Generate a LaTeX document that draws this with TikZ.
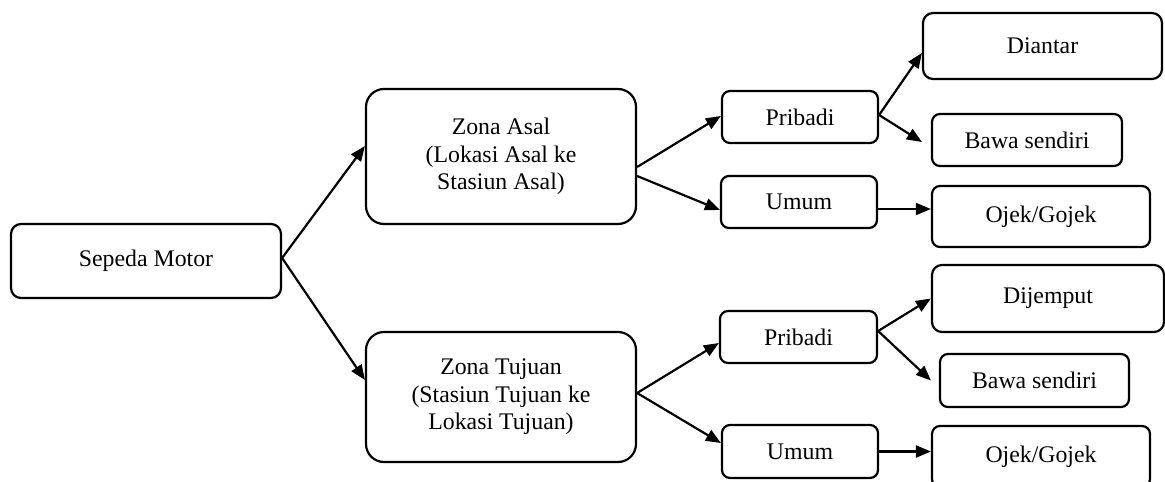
\documentclass[tikz,border=0pt]{standalone}
\usepackage{fontspec}
\setmainfont{Liberation Serif}
\usetikzlibrary{arrows.meta}
\tikzset{
  box/.style={draw, line width=1.1pt, rounded corners=#1, inner sep=0pt, align=center,
    font=\fontsize{11.9}{13.75}\selectfont},
  box/.default=4pt,
  arr/.style={line width=1.1pt, -{Triangle[length=7.5pt,width=6pt]}}
}
\begin{document}
\begin{tikzpicture}[x=0.5pt,y=-0.5pt]
\useasboundingbox (0,0) rectangle (1165,481);
\clip (0,0) rectangle (1165,481);
% level 0
\node[box=5pt, minimum width=135pt, minimum height=37pt] (sm) at (146,261) {Sepeda Motor};
% level 1
\node[box=9pt, minimum width=135pt, minimum height=67.5pt] (za) at (501,156.5) {Zona Asal\\(Lokasi Asal ke\\Stasiun Asal)};
\node[box=9pt, minimum width=135pt, minimum height=65pt] (zt) at (501,397) {Zona Tujuan\\(Stasiun Tujuan ke\\Lokasi Tujuan)};
% level 2
\node[box, minimum width=78pt, minimum height=26pt] (p1) at (800,117) {Pribadi};
\node[box, minimum width=78pt, minimum height=26pt] (u1) at (799,202) {Umum};
\node[box, minimum width=78.5pt, minimum height=26pt] (p2) at (798.5,337) {Pribadi};
\node[box, minimum width=78pt, minimum height=26.5pt] (u2) at (800,451.5) {Umum};
% level 3
\node[box=5pt, minimum width=119.5pt, minimum height=33pt] (d1) at (1042.5,46) {Diantar};
\node[box, minimum width=95pt, minimum height=26pt] (b1) at (1027,140) {Bawa sendiri};
\node[box, minimum width=109pt, minimum height=30.5pt] (o1) at (1041,216.5) {\raisebox{-2.5pt}{Ojek/Gojek}};
\node[box=5pt, minimum width=116pt, minimum height=33.5pt] (d2) at (1048,298.5) {\raisebox{-1.5pt}{Dijemput}};
\node[box, minimum width=94.5pt, minimum height=26.5pt] (b2) at (1034.5,380.5) {Bawa sendiri};
\node[box, minimum width=109pt, minimum height=30.5pt] (o2) at (1041,456.5) {\raisebox{-1.5pt}{Ojek/Gojek}};
% connectors
\draw[arr] ([yshift=1.5pt]sm.east) -- ([yshift=5.25pt]za.west);
\draw[arr] ([yshift=1.5pt]sm.east) -- ([yshift=8.5pt]zt.west);
\draw[arr] ([yshift=-5.25pt]za.east) -- ([yshift=0.5pt]p1.west);
\draw[arr] ([yshift=-9.75pt]za.east) -- ([yshift=-4pt]u1.west);
\draw[arr] ([yshift=2pt]zt.east) -- ([yshift=-3pt]p2.west);
\draw[arr] ([yshift=2pt]zt.east) -- ([yshift=4.25pt]u2.west);
\draw[arr] ([yshift=1pt]p1.east) -- ([yshift=-3.5pt]d1.west);
\draw[arr] ([yshift=1pt]p1.east) -- ([xshift=-4.5pt,yshift=-1pt]b1.west);
\draw[arr] ([yshift=-3.5pt]u1.east) -- ([yshift=-3.5pt]u1.east -| o1.west);
\draw[arr] ([yshift=3pt]p2.east) -- (d2.west);
\draw[arr] ([yshift=3pt]p2.east) -- ([xshift=-4pt]b2.west);
\draw[arr] (u2.east) -- (u2.east -| o2.west);
\end{tikzpicture}
\end{document}
